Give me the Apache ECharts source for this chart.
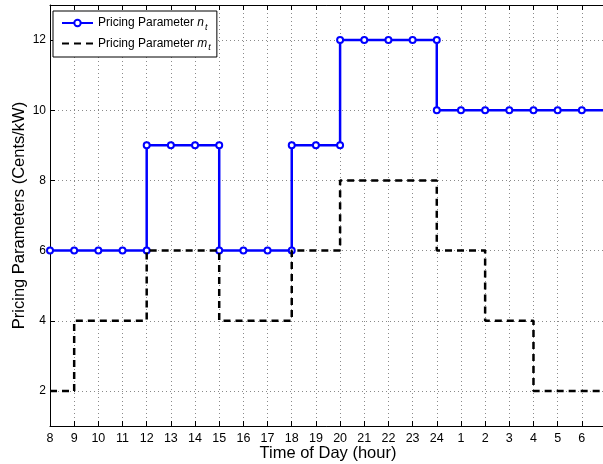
<!DOCTYPE html>
<html>
<head>
<meta charset="utf-8">
<script src="https://cdn.jsdelivr.net/npm/echarts@6/dist/echarts.min.js"></script>
<style>html,body{margin:0;padding:0;background:#fff}#c{width:603px;height:464px}</style>
</head>
<body>
<div id="c"></div>
<script>
// Hour-of-day tick labels (one per hourly step, starting at 8 am)
const hourLabels = ['8','9','10','11','12','13','14','15','16','17','18','19','20','21','22','23','24','1','2','3','4','5','6'];
// Pricing parameter n_t for each hour (cents/kW)
const nValues = [6,6,6,6,9,9,9,6,6,6,9,9,12,12,12,12,10,10,10,10,10,10,10];
// Pricing parameter m_t for each hour (cents/kW)
const mValues = [2,4,4,4,6,6,6,4,4,4,6,6,8,8,8,8,6,6,4,4,2,2,2];

const startHour = 8;
const font = 'Liberation Sans, Arial, Helvetica, sans-serif';

// stair data for n with markers at both levels of a jump
const nData = [];
nValues.forEach((v, i) => {
  const x = startHour + i;
  if (i > 0 && v !== nValues[i - 1]) nData.push([x, nValues[i - 1]]);
  nData.push([x, v]);
});
nData.push({ value: [startHour + nValues.length, nValues[nValues.length - 1]], symbol: 'none' });

const mData = mValues.map((v, i) => [startHour + i, v]);
mData.push([startHour + mValues.length, mValues[mValues.length - 1]]);

const xMax = startHour + hourLabels.length;

const chart = echarts.init(document.getElementById('c'), null, { renderer: 'canvas' });
const gridLine = { show: true, lineStyle: { color: '#8a8a8a', width: 1, type: [1, 3] } };
chart.setOption({
  animation: false,
  backgroundColor: '#fff',
  textStyle: { fontFamily: font },
  grid: { left: 50, top: 5, right: -3, bottom: 38, containLabel: false, outerBoundsMode: 'none' },
  legend: {
    left: 53, top: 11,
    orient: 'vertical',
    backgroundColor: '#fff',
    borderColor: '#000', borderWidth: 1, borderRadius: 0,
    padding: [6, 6, 5, 8],
    itemWidth: 31, itemHeight: 8, itemGap: 6,
    textStyle: {
      color: '#000', fontSize: 12, fontFamily: font,
      rich: {
        i: { fontStyle: 'italic', fontSize: 12, color: '#000', fontFamily: font },
        s: { fontStyle: 'italic', fontSize: 9, color: '#000', fontFamily: font, padding: [8, 0, 0, 1] }
      }
    },
    formatter: function (name) {
      return name === 'n' ? 'Pricing Parameter {i|n}{s|t}' : 'Pricing Parameter {i|m}{s|t}';
    },
    data: ['n', 'm']
  },
  xAxis: [{
    type: 'value', min: startHour, max: xMax, interval: 1,
    position: 'bottom',
    name: 'Time of Day (hour)', nameLocation: 'middle', nameGap: 19, nameMoveOverlap: false,
    nameTextStyle: { fontSize: 16.5, color: '#000', fontFamily: font },
    axisLine: { show: true, onZero: false, lineStyle: { color: '#000', width: 1 } },
    axisTick: { show: true, inside: true, length: 5, lineStyle: { color: '#000' } },
    axisLabel: {
      color: '#000', fontSize: 12.5, margin: 6, fontFamily: font,
      formatter: v => hourLabels[Math.round(v - startHour)] ?? ''
    },
    splitLine: gridLine
  }, {
    type: 'value', min: startHour, max: xMax, interval: 1,
    position: 'top',
    axisLine: { show: true, onZero: false, lineStyle: { color: '#000', width: 1 } },
    axisTick: { show: true, inside: true, length: 5, lineStyle: { color: '#000' } },
    axisLabel: { show: false },
    splitLine: { show: false }
  }],
  yAxis: {
    type: 'value', min: 1, max: 13, splitNumber: 6,
    name: 'Pricing Parameters (Cents/kW)', nameLocation: 'middle', nameGap: 22, nameRotate: 90, nameMoveOverlap: false,
    nameTextStyle: { fontSize: 16.5, color: '#000', fontFamily: font },
    axisLine: { show: true, onZero: false, lineStyle: { color: '#000', width: 1 } },
    axisTick: { show: true, inside: true, length: 5, lineStyle: { color: '#000' } },
    axisLabel: { color: '#000', fontSize: 12, margin: 4, showMinLabel: false, showMaxLabel: false, fontFamily: font },
    splitLine: gridLine
  },
  series: [{
    name: 'n', type: 'line', data: nData,
    symbol: 'emptyCircle', symbolSize: 6, showAllSymbol: true,
    lineStyle: { color: '#0000ff', width: 2.5 },
    itemStyle: { color: '#0000ff', borderWidth: 2 },
    z: 3
  }, {
    name: 'm', type: 'line', data: mData, step: 'end',
    symbol: 'none', showSymbol: false,
    lineStyle: { color: '#000', width: 2.5, type: [7, 5] },
    itemStyle: { color: '#000', opacity: 0 },
    z: 4
  }]
});
</script>
</body>
</html>
